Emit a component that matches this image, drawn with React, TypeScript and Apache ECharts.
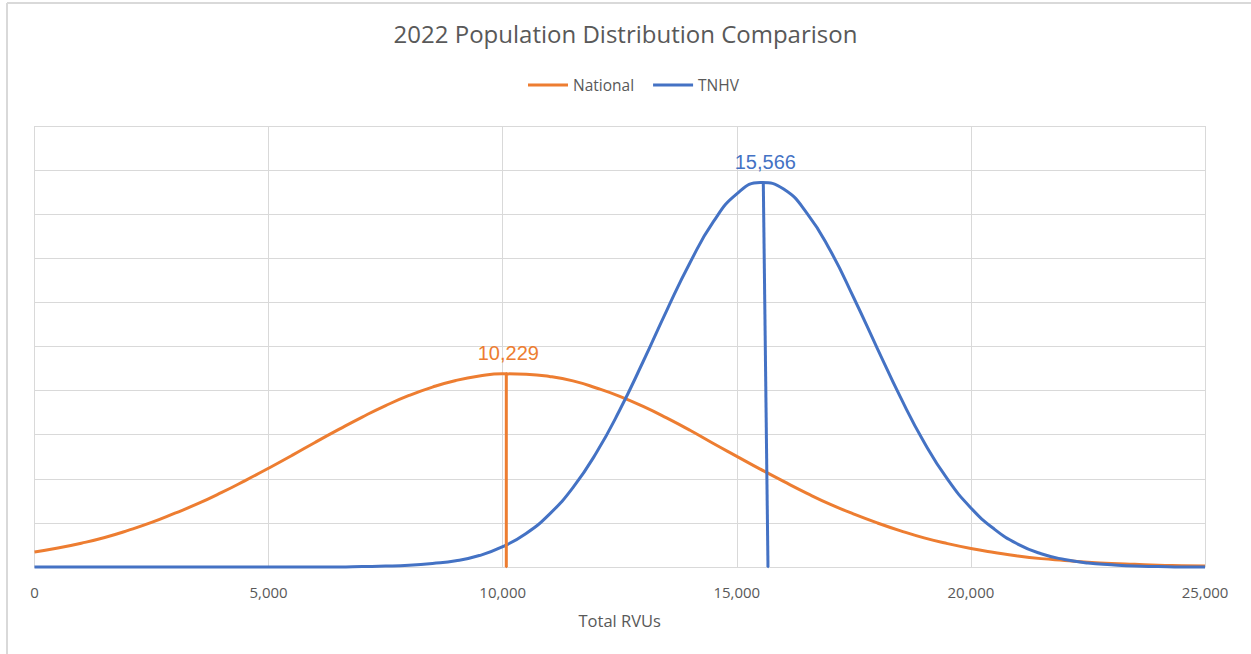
import React, { useEffect, useRef } from "react";
import * as echarts from "echarts";

// X axis ticks (Total RVUs)
const xTicks = [0, 5000, 10000, 15000, 20000, 25000];
// Y axis gridlines (arbitrary density units, no labels)
const yTicks = [0, 1, 2, 3, 4, 5, 6, 7, 8, 9, 10];

// Sample positions along Total RVUs (every 500)
const sampleX = Array.from({ length: 51 }, (_, i) => i * 500);

// National distribution curve (values at each sample)
const nationalY = [
  0.34, 0.43, 0.54, 0.67, 0.83, 1.01, 1.22, 1.44, 1.69, 1.96,
  2.24, 2.53, 2.83, 3.12, 3.4, 3.66, 3.89, 4.08, 4.23, 4.33,
  4.38, 4.37, 4.32, 4.22, 4.06, 3.87, 3.64, 3.38, 3.1, 2.8,
  2.51, 2.22, 1.94, 1.67, 1.42, 1.2, 1.0, 0.82, 0.66, 0.53,
  0.42, 0.33, 0.25, 0.19, 0.15, 0.11, 0.08, 0.06, 0.04, 0.03,
  0.02,
];

// TNHV distribution curve (values at each sample)
const tnhvY = [
  0, 0, 0, 0, 0, 0, 0, 0, 0, 0,
  0, 0, 0, 0, 0.01, 0.02, 0.04, 0.08, 0.14, 0.26,
  0.46, 0.76, 1.2, 1.8, 2.59, 3.56, 4.66, 5.81, 6.9, 7.83,
  8.46, 8.72, 8.57, 8.02, 7.17, 6.1, 4.96, 3.84, 2.83, 1.99,
  1.34, 0.86, 0.52, 0.3, 0.17, 0.09, 0.05, 0.02, 0.01, 0,
  0,
];

// Mean markers: [bottom x, top x, top y]
const nationalDrop = [10077, 10077, 4.39];
const tnhvDrop = [15666, 15566, 8.72];
const meanLabels = [10229, 15566];

const ORANGE = "#ED7D31";
const BLUE = "#4472C4";
const TEXT = "#595959";
const GRID = "#D9D9D9";

const zip = (xs: number[], ys: number[]) => xs.map((x, i) => [x, ys[i]]);

export default function App() {
  const ref = useRef<HTMLDivElement>(null);

  useEffect(() => {
    if (!ref.current) return;
    const chart = echarts.init(ref.current, undefined, { renderer: "svg" });
    const fmt = (v: number) => v.toLocaleString("en-US");

    const dropSeries = (name: string, color: string, d: number[], lbl: number) => ({
      name,
      type: "line",
      data: [
        { value: [d[0], 0], label: { show: false } },
        {
          value: [d[1], d[2]],
          label: {
            show: true,
            position: "top",
            distance: 9,
            offset: [2, 0],
            formatter: () => fmt(lbl),
            color,
            fontSize: 20,
            fontFamily: "Liberation Sans, Arial, sans-serif",
          },
        },
      ],
      symbol: "circle",
      symbolSize: 2,
      showSymbol: true,
      itemStyle: { color },
      lineStyle: { color, width: 3 },
      clip: false,
      silent: true,
      z: 3,
    });

    chart.setOption({
      animation: false,
      backgroundColor: "#ffffff",
      title: {
        text: "2022 Population Distribution Comparison",
        left: "center",
        top: 21,
        padding: 0,
        textStyle: {
          fontFamily: "Open Sans",
          fontSize: 24,
          fontWeight: "normal",
          color: TEXT,
        },
      },
      legend: {
        data: ["National", "TNHV"],
        left: 528,
        top: 77,
        padding: 0,
        itemWidth: 40,
        itemHeight: 3,
        itemGap: 19,
        icon: "rect",
        textStyle: { fontFamily: "Open Sans", fontSize: 15.5, color: TEXT },
      },
      grid: { left: 34.5, right: 46, top: 126, bottom: 87 },
      xAxis: {
        type: "value",
        min: xTicks[0],
        max: xTicks[xTicks.length - 1],
        interval: xTicks[1] - xTicks[0],
        name: "Total RVUs",
        nameLocation: "middle",
        nameGap: 45,
        nameTextStyle: { fontFamily: "Open Sans", fontSize: 16.5, color: TEXT },
        axisLine: { show: true, lineStyle: { color: GRID, width: 1 } },
        axisTick: { show: false },
        axisLabel: {
          margin: 17,
          fontFamily: "Open Sans",
          fontSize: 15,
          color: TEXT,
          formatter: (v: number) => fmt(v),
        },
        splitLine: { show: true, lineStyle: { color: GRID, width: 1 } },
      },
      yAxis: {
        type: "value",
        min: yTicks[0],
        max: yTicks[yTicks.length - 1],
        interval: yTicks[1] - yTicks[0],
        axisLine: { show: false },
        axisTick: { show: false },
        axisLabel: { show: false },
        splitLine: { show: true, lineStyle: { color: GRID, width: 1 } },
      },
      graphic: [
        { type: "line", shape: { x1: 7, y1: 3, x2: 1251, y2: 3 }, style: { stroke: GRID, lineWidth: 2 } },
        { type: "line", shape: { x1: 7, y1: 3, x2: 7, y2: 654 }, style: { stroke: GRID, lineWidth: 2 } },
      ],
      series: [
        {
          name: "National",
          type: "line",
          data: zip(sampleX, nationalY),
          smooth: 0.5,
          showSymbol: false,
          symbol: "none",
          itemStyle: { color: ORANGE },
          lineStyle: { color: ORANGE, width: 3 },
          clip: false,
          z: 2,
        },
        {
          name: "TNHV",
          type: "line",
          data: zip(sampleX, tnhvY),
          smooth: 0.5,
          showSymbol: false,
          symbol: "none",
          itemStyle: { color: BLUE },
          lineStyle: { color: BLUE, width: 3 },
          clip: false,
          z: 2,
        },
        dropSeries("National", ORANGE, nationalDrop, meanLabels[0]),
        dropSeries("TNHV", BLUE, tnhvDrop, meanLabels[1]),
      ],
    } as any);

    return () => chart.dispose();
  }, []);

  return (
    <div
      ref={ref}
      style={{ position: "absolute", left: 0, top: 0, width: 1251, height: 654 }}
    />
  );
}
